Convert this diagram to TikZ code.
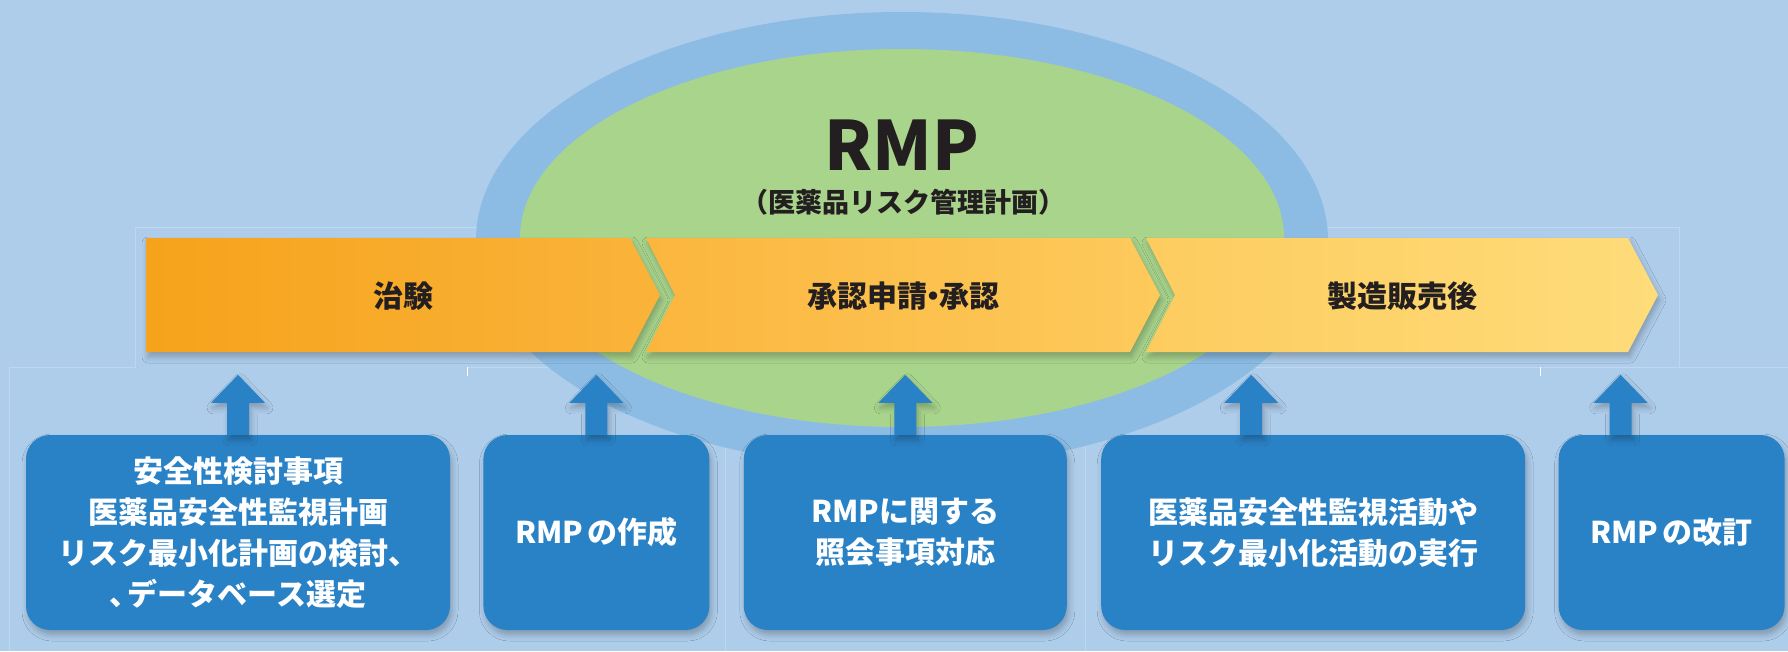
\documentclass[tikz,border=0pt]{standalone}
\usepackage{fontspec}
\setmainfont{Noto Sans CJK JP}
\usetikzlibrary{positioning,shapes.geometric,shadows.blur}
\definecolor{bgblue}{HTML}{AECDEB}
\definecolor{lineblue}{HTML}{BDD8F0}
\definecolor{ringblue}{HTML}{8CBCE4}
\definecolor{leafgreen}{HTML}{A8D48C}
\definecolor{boxblue}{HTML}{2A82C6}
\definecolor{inkdark}{HTML}{231F20}
\definecolor{chevA}{HTML}{F6A31B}
\definecolor{chevB}{HTML}{FAB33A}
\definecolor{chevC}{HTML}{FBB63E}
\definecolor{chevD}{HTML}{FDCA5C}
\definecolor{chevE}{HTML}{FDCC5F}
\definecolor{chevF}{HTML}{FEDC7A}
\tikzstyle{softshadow}=[blur shadow={shadow xshift=2pt, shadow yshift=-5pt,
                    shadow blur radius=6pt, shadow opacity=25}]
\tikzstyle{chev}=[softshadow]
\tikzstyle{phase}=[font=\fontsize{30}{36}\selectfont\bfseries, text=inkdark, inner sep=0pt]
\tikzstyle{infobox}=[rectangle, rounded corners=24pt, fill=boxblue, softshadow,
                    minimum height=195pt, inner sep=0pt, text=white, align=center,
                    font=\fontsize{30}{41}\selectfont\bfseries]
\tikzstyle{uparrow}=[fill=boxblue, softshadow]
\tikzstyle{faint}=[draw=lineblue, line width=1pt]

\begin{document}
\begin{tikzpicture}[x=1pt, y=-1pt, node distance=0pt]

\fill[bgblue] (0,0) rectangle (1788,651);
\useasboundingbox (0,0) rectangle (1788,651);

% faint layout lines
\draw[faint] (9,651) -- (9,367) -- (135,367) -- (135,227) -- (1679,227) -- (1679,367);
\draw[faint] (467,367) -- (1788,367);
\draw[faint] (725,367) -- (725,651);
\draw[faint] (1085,367) -- (1085,651);
\draw[white, line width=1pt] (467,367) -- (467,376);
\draw[white, line width=1pt] (1540,367) -- (1540,376);

\node (RING) [ellipse, fill=ringblue, minimum width=852pt, minimum height=456pt] at (902,240) {};
\node (CORE) [ellipse, fill=leafgreen, minimum width=764pt, minimum height=378pt] at (902,238) {};
\node (RMP) [font=\fontsize{68}{70}\selectfont\bfseries, text=inkdark, inner sep=0pt] at (902,145) {RMP};
\node (RMPSUB) [font=\fontsize{27}{30}\selectfont\bfseries, text=inkdark, inner sep=0pt] at (903,202) {（医薬品リスク管理計画）};

% phases
\path[chev, left color=chevA, right color=chevB] (146,238) -- ++(484,0) -- ++(30,57) -- ++(-30,57) -- ++(-484,0) -- cycle;
\path[chev, left color=chevC, right color=chevD] (646,238) -- ++(484,0) -- ++(30,57) -- ++(-30,57) -- ++(-484,0) -- ++(29,-57) -- cycle;
\path[chev, left color=chevE, right color=chevF] (1146,238) -- ++(482,0) -- ++(30,57) -- ++(-30,57) -- ++(-482,0) -- ++(29,-57) -- cycle;
\node (TRIAL) [phase] at (403,296) {治験};
\node (APPROVAL) [phase] at (903,296) {承認申請\kern-0.3em・\kern-0.3em承認};
\node (POSTMKT) [phase] at (1402,296) {製造販売後};

% activities
\node (SAFE) [infobox, minimum width=424pt] at (238,532.5) {安全性検討事項\\医薬品安全性監視計画\\リスク最小化計画の検討、\\、\kern-0.4emデータベース選定};
\node (MAKE) [infobox, minimum width=226pt, right=33pt of SAFE] {RMP\hspace{0.15em}の作成};
\node (QUERY) [infobox, minimum width=323pt, right=34pt of MAKE] {RMPに関する\\照会事項対応};
\node (RUN) [infobox, minimum width=424pt, right=34pt of QUERY] {医薬品安全性監視活動や\\リスク最小化活動の実行};
\node (REVISE) [infobox, minimum width=226pt, right=33pt of RUN] {RMP\hspace{0.15em}の改訂};

\path[uparrow] (SAFE.north)   ++(-11,0) -- ++(0,-32) -- ++(-16,0) -- ++(27,-28) -- ++(27,28) -- ++(-16,0) -- ++(0,32) -- cycle;
\path[uparrow] (MAKE.north)   ++(-11,0) -- ++(0,-32) -- ++(-16,0) -- ++(27,-28) -- ++(27,28) -- ++(-16,0) -- ++(0,32) -- cycle;
\path[uparrow] (QUERY.north)  ++(-11,0) -- ++(0,-32) -- ++(-16,0) -- ++(27,-28) -- ++(27,28) -- ++(-16,0) -- ++(0,32) -- cycle;
\path[uparrow] (RUN.north)    ++(-73,0) -- ++(0,-32) -- ++(-16,0) -- ++(27,-28) -- ++(27,28) -- ++(-16,0) -- ++(0,32) -- cycle;
\path[uparrow] (REVISE.north) ++(-62,0) -- ++(0,-32) -- ++(-16,0) -- ++(27,-28) -- ++(27,28) -- ++(-16,0) -- ++(0,32) -- cycle;

\end{tikzpicture}
\end{document}
